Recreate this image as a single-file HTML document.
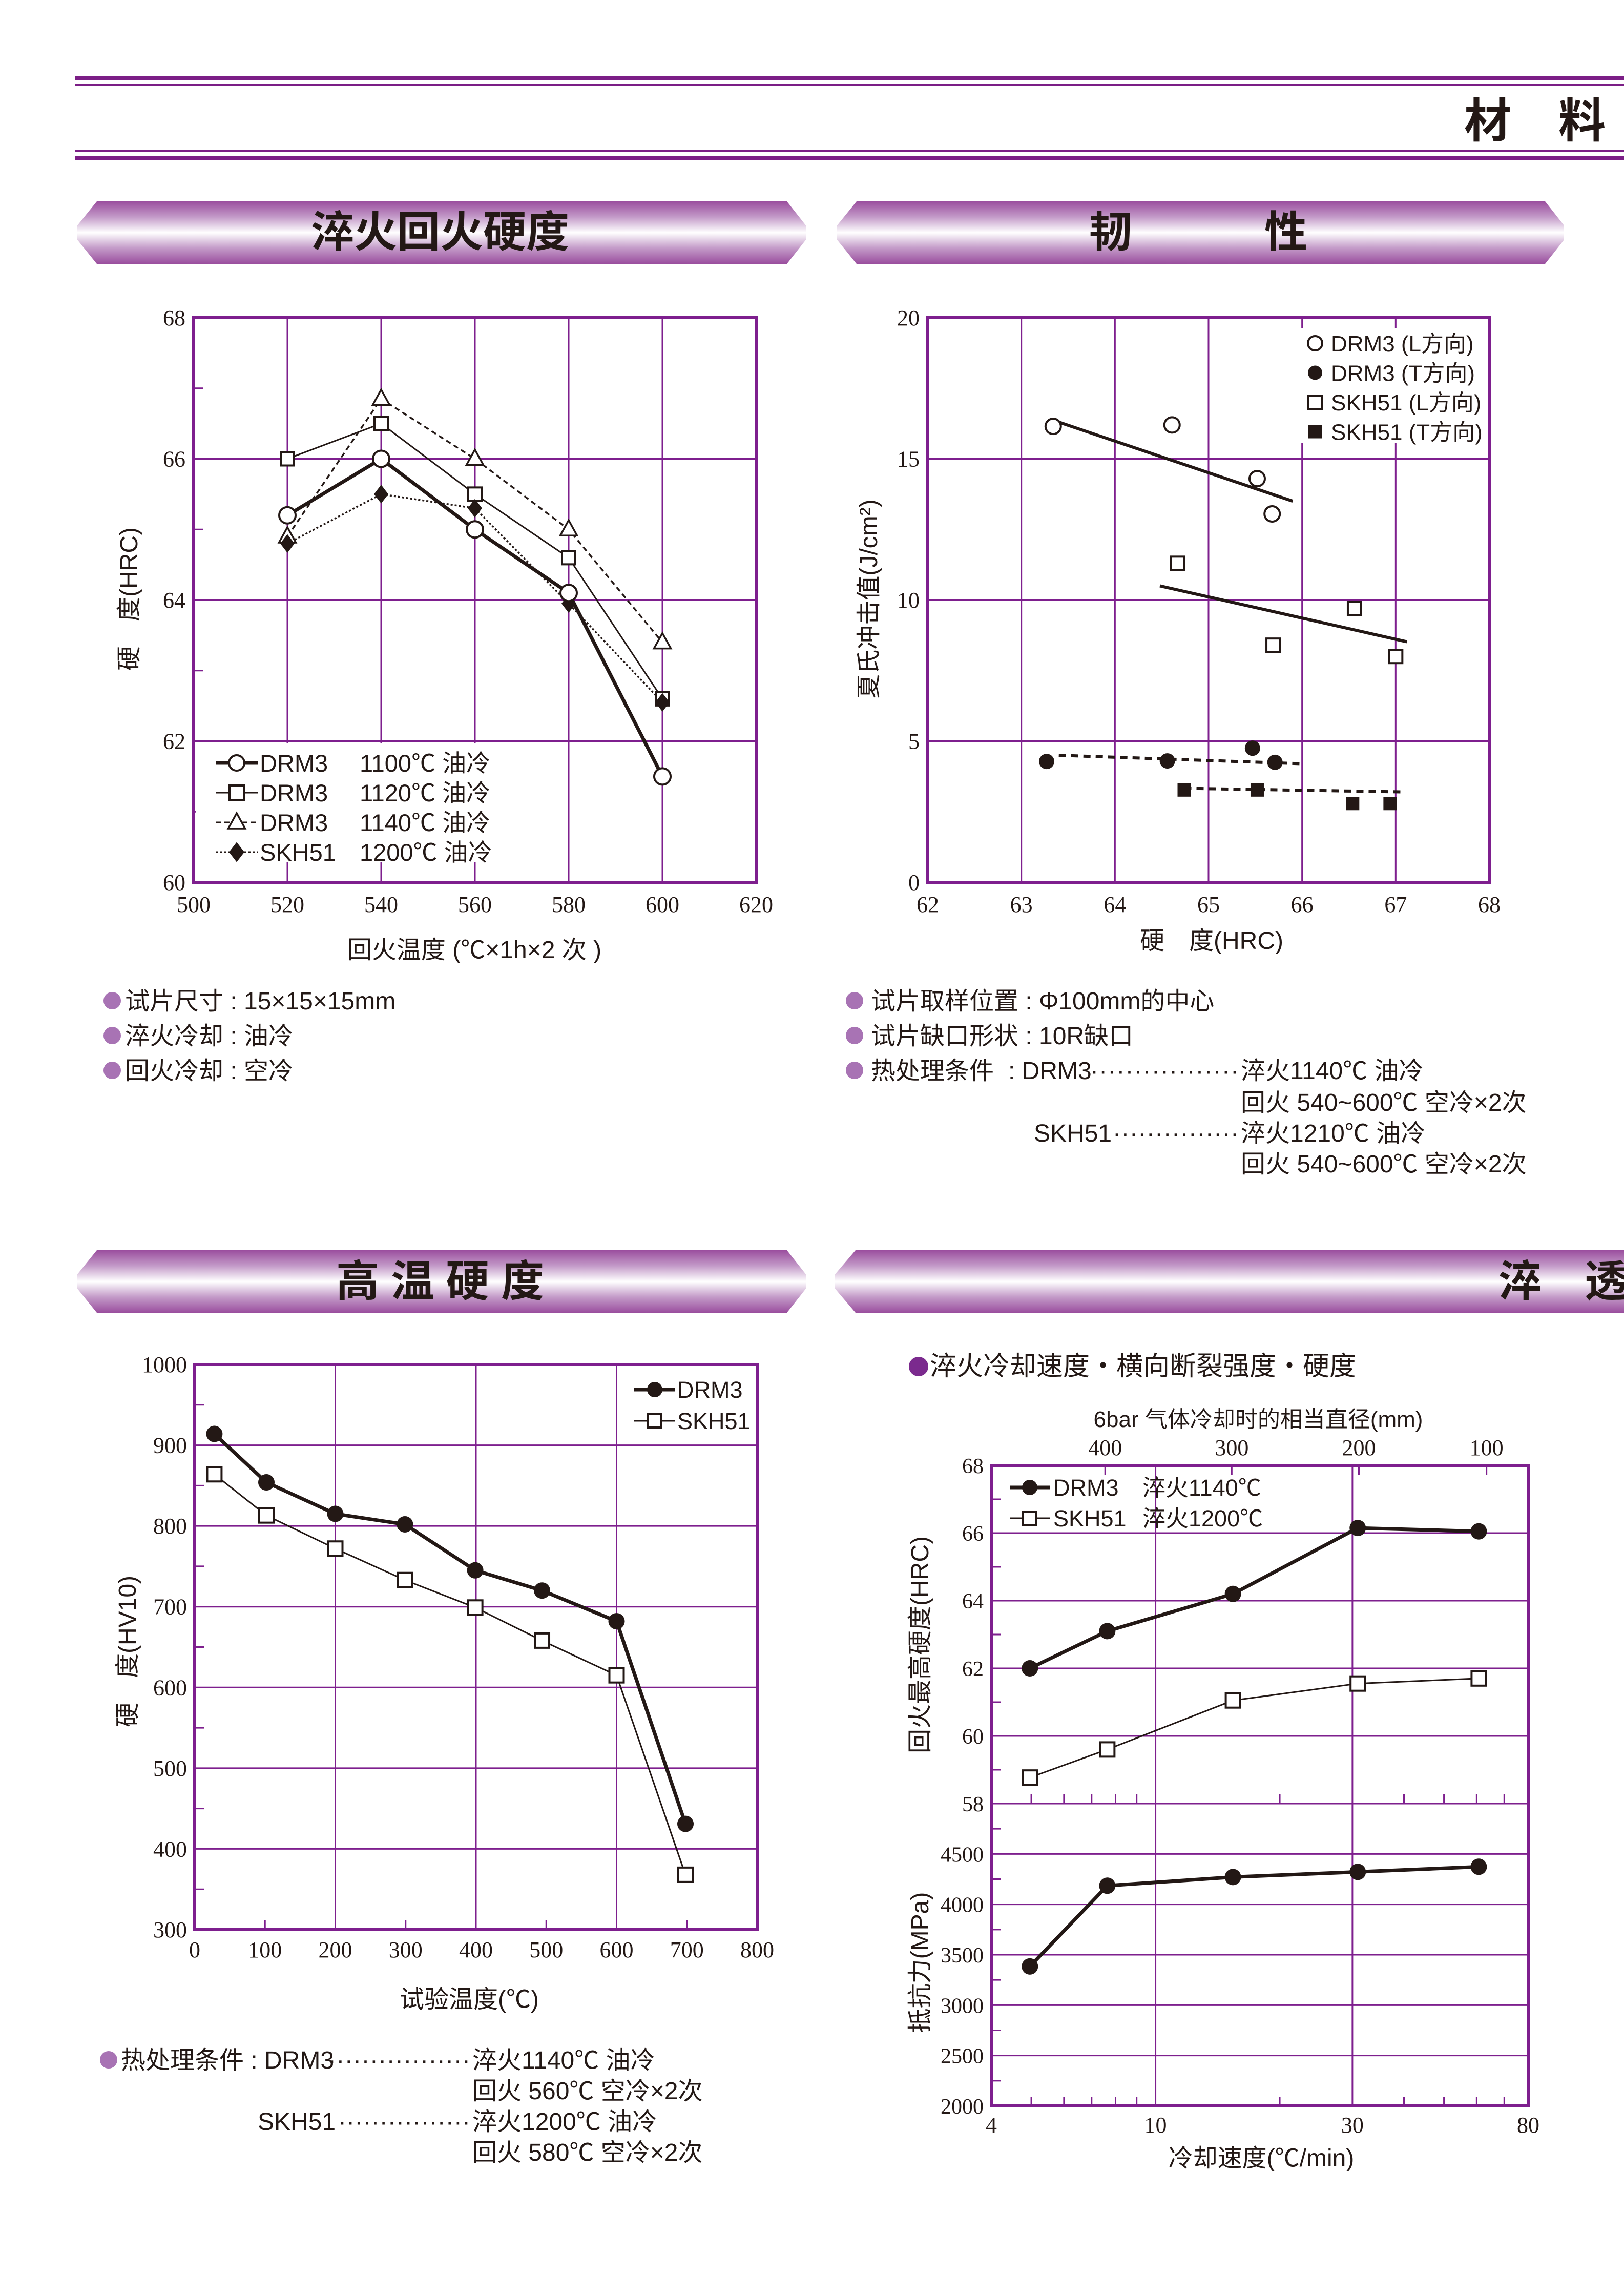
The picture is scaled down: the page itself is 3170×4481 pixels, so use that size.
<!DOCTYPE html>
<html><head><meta charset="utf-8"><style>
html,body{margin:0;padding:0;background:#fff;}
svg{display:block;}
text{font-family:"Liberation Sans","Noto Sans CJK SC",sans-serif;fill:#231815;}
.ser{font-family:"Liberation Serif","Noto Serif CJK SC",serif;}
</style></head><body>
<svg id="page" xmlns="http://www.w3.org/2000/svg" width="3170" height="4481" viewBox="0 0 3170 4481">
<defs>
<linearGradient id="bg" x1="0" y1="0" x2="0" y2="1">
<stop offset="0" stop-color="#9a4e9e"/><stop offset="0.25" stop-color="#c39ac8"/><stop offset="0.5" stop-color="#ffffff"/><stop offset="0.75" stop-color="#c39ac8"/><stop offset="1" stop-color="#9a4e9e"/>
</linearGradient>
</defs>
<g>
<rect x="146" y="148" width="3024" height="9" fill="#7b1e86"/>
<rect x="146" y="164" width="3024" height="4" fill="#7b1e86"/>
<rect x="146" y="293" width="3024" height="4" fill="#7b1e86"/>
<rect x="146" y="304" width="3024" height="9" fill="#7b1e86"/>
<text x="2858" y="268" font-size="92" font-weight="bold">材　料</text>
</g>
<g>
<polygon points="189,393 1536,393 1573,440 1573,468 1536,515 189,515 151,468 151,440" fill="url(#bg)"/>
<text x="859" y="482" font-size="84" font-weight="bold" text-anchor="middle">淬火回火硬度</text>
</g>
<g>
<polygon points="1672,393 3016,393 3053,440 3053,468 3016,515 1672,515 1634,468 1634,440" fill="url(#bg)"/>
<text x="2168" y="482" font-size="84" font-weight="bold" text-anchor="middle">韧</text>
<text x="2510" y="482" font-size="84" font-weight="bold" text-anchor="middle">性</text>
</g>
<g>
<polygon points="189,2440 1536,2440 1573,2487 1573,2515 1536,2562 189,2562 151,2515 151,2487" fill="url(#bg)"/>
<text x="859" y="2530" font-size="84" font-weight="bold" text-anchor="middle">高 温 硬 度</text>
</g>
<g>
<polygon points="1670,2440 3170,2440 3170,2562 1670,2562 1630,2515 1630,2487" fill="url(#bg)"/>
<text x="2925" y="2530" font-size="84" font-weight="bold">淬　透</text>
</g>
<g id="c1"></g>
<g id="c2"></g>
<g id="c3"></g>
<g id="c4"></g>
<g font-size="48">
<circle cx="219" cy="1953" r="17" fill="#a873b4"/><text x="244" y="1970">试片尺寸 : 15×15×15mm</text>
<circle cx="219" cy="2021" r="17" fill="#a873b4"/><text x="244" y="2038">淬火冷却 : 油冷</text>
<circle cx="219" cy="2089" r="17" fill="#a873b4"/><text x="244" y="2106">回火冷却 : 空冷</text>

<circle cx="1668" cy="1953" r="17" fill="#a873b4"/><text x="1700" y="1970">试片取样位置 : Φ100mm的中心</text>
<circle cx="1668" cy="2021" r="17" fill="#a873b4"/><text x="1700" y="2038">试片缺口形状 : 10R缺口</text>
<circle cx="1668" cy="2089" r="17" fill="#a873b4"/><text x="1700" y="2106">热处理条件</text>
<text x="1968" y="2106">: DRM3</text>
<text x="2128" y="2106" textLength="290" lengthAdjust="spacing">·················</text>
<text x="2422" y="2106">淬火1140℃ 油冷</text>
<text x="2422" y="2168">回火 540~600℃ 空冷×2次</text>
<text x="2018" y="2228">SKH51</text>
<text x="2172" y="2228" textLength="246" lengthAdjust="spacing">···············</text>
<text x="2422" y="2228">淬火1210℃ 油冷</text>
<text x="2422" y="2288">回火 540~600℃ 空冷×2次</text>

<circle cx="212" cy="4020" r="17" fill="#a873b4"/><text x="236" y="4037">热处理条件 : DRM3</text>
<text x="640" y="4037" textLength="278" lengthAdjust="spacing">·················</text>
<text x="922" y="4037">淬火1140℃ 油冷</text>
<text x="922" y="4097">回火 560℃ 空冷×2次</text>
<text x="503" y="4157">SKH51</text>
<text x="660" y="4157" textLength="258" lengthAdjust="spacing">················</text>
<text x="922" y="4157">淬火1200℃ 油冷</text>
<text x="922" y="4217">回火 580℃ 空冷×2次</text>
</g>
</svg>
<script>
// ---- chart 1 data ----
const c1Temps = [520, 540, 560, 580, 600];
const c1Drm1100 = [65.2, 66.0, 65.0, 64.1, 61.5];
const c1Drm1120 = [66.0, 66.5, 65.5, 64.6, 62.6];
const c1Drm1140 = [64.9, 66.85, 66.0, 65.0, 63.4];
const c1Skh1200 = [64.8, 65.5, 65.3, 63.95, 62.55];
const c1XTicks = [500, 520, 540, 560, 580, 600, 620];
const c1YTicks = [60, 62, 64, 66, 68];
// ---- chart 2 data ----
const c2DrmL_x = [63.34, 64.61, 65.52, 65.68];
const c2DrmL_y = [16.15, 16.2, 14.3, 13.05];
const c2DrmT_x = [63.27, 64.56, 65.47, 65.71];
const c2DrmT_y = [4.28, 4.3, 4.75, 4.25];
const c2SkhL_x = [64.67, 65.69, 66.56, 67.0];
const c2SkhL_y = [11.3, 8.4, 9.7, 8.0];
const c2SkhT_x = [64.74, 65.52, 66.54, 66.94];
const c2SkhT_y = [3.27, 3.27, 2.79, 2.79];
const c2FitDrmL = [[63.4, 16.3], [65.9, 13.5]];
const c2FitDrmT = [[63.4, 4.5], [66.0, 4.2]];
const c2FitSkhL = [[64.48, 10.5], [67.12, 8.52]];
const c2FitSkhT = [[64.74, 3.33], [67.1, 3.2]];
const c2XTicks = [62, 63, 64, 65, 66, 67, 68];
const c2YTicks = [0, 5, 10, 15, 20];
// ---- chart 3 data ----
const c3TempsDrm = [28, 102, 200, 299, 399, 494, 600, 698];
const c3Drm = [914, 854, 815, 802, 745, 720, 682, 431];
const c3TempsSkh = [28, 102, 200, 299, 399, 494, 600, 698];
const c3Skh = [864, 813, 772, 733, 699, 658, 615, 368];
const c3XTicks = [0, 100, 200, 300, 400, 500, 600, 700, 800];
const c3YTicks = [300, 400, 500, 600, 700, 800, 900, 1000];
// ---- chart 4 data ----
const c4Rates = [4.96, 7.64, 15.4, 30.9, 60.7];
const c4DrmHrc = [62.0, 63.1, 64.2, 66.15, 66.05];
const c4SkhHrc = [58.77, 59.6, 61.05, 61.55, 61.7];
const c4Strength = [3384, 4185, 4271, 4322, 4373];
const c4XTicks = [4, 10, 30, 80];
const c4HrcTicks = [58, 60, 62, 64, 66, 68];
const c4StrTicks = [2000, 2500, 3000, 3500, 4000, 4500];
const c4DiaLabels = ["400", "300", "200", "100"];
const c4DiaRates = [7.55, 15.3, 31.1, 63.4];

const NS = "http://www.w3.org/2000/svg";
const PURPLE = "#7e1f8e", INK = "#231815";
function mk(parent, tag, attrs, txt) {
  const e = document.createElementNS(NS, tag);
  for (const k in attrs) e.setAttribute(k, attrs[k]);
  if (txt !== undefined) e.textContent = txt;
  parent.appendChild(e);
  return e;
}
function lin(d0, d1, r0, r1) { return v => r0 + (v - d0) / (d1 - d0) * (r1 - r0); }
function logs(d0, d1, r0, r1) { return v => r0 + (Math.log10(v) - Math.log10(d0)) / (Math.log10(d1) - Math.log10(d0)) * (r1 - r0); }
function hline(g, x0, x1, y, w) { mk(g, "line", {x1: x0, x2: x1, y1: y, y2: y, stroke: PURPLE, "stroke-width": w}); }
function vline(g, x, y0, y1, w) { mk(g, "line", {x1: x, x2: x, y1: y0, y2: y1, stroke: PURPLE, "stroke-width": w}); }
function polyline(g, xs, ys, sx, sy, w, dash, name) {
  const pts = xs.map((x, i) => sx(x) + "," + sy(ys[i])).join(" ");
  const p = mk(g, "polyline", {points: pts, fill: "none", stroke: INK, "stroke-width": w, "stroke-linejoin": "round"});
  if (dash) p.setAttribute("stroke-dasharray", dash);
  
  
  return p;
}
function marker(g, type, cx, cy, s, name) {
  let e;
  if (type === "oc") e = mk(g, "circle", {cx: cx, cy: cy, r: s, fill: "#fff", stroke: INK, "stroke-width": 4});
  else if (type === "fc") e = mk(g, "circle", {cx: cx, cy: cy, r: s, fill: INK});
  else if (type === "os") e = mk(g, "rect", {x: cx - s, y: cy - s, width: 2 * s, height: 2 * s, fill: "#fff", stroke: INK, "stroke-width": 4});
  else if (type === "fs") e = mk(g, "rect", {x: cx - s, y: cy - s, width: 2 * s, height: 2 * s, fill: INK});
  else if (type === "tri") e = mk(g, "polygon", {points: `${cx},${cy - s * 1.2} ${cx - s * 1.1},${cy + s * 0.8} ${cx + s * 1.1},${cy + s * 0.8}`, fill: "#fff", stroke: INK, "stroke-width": 3.5});
  else if (type === "dia") e = mk(g, "polygon", {points: `${cx},${cy - s * 1.3} ${cx + s},${cy} ${cx},${cy + s * 1.3} ${cx - s},${cy}`, fill: INK});
  
  
  return e;
}
function tlabel(g, x, y, t, anchor, size, name) {
  const e = mk(g, "text", {x: x, y: y, "font-size": size || 42, "text-anchor": anchor || "middle", class: "ser"}, t);
  
  
  return e;
}
function vtext(g, x, y, t, size, name) {
  const e = mk(g, "text", {x: 0, y: 0, "font-size": size, "text-anchor": "middle", transform: `translate(${x},${y}) rotate(-90)`}, t);
  
  
  return e;
}

// ================= Chart 1 =================
(function () {
  const g = document.getElementById("c1");
  const L = 378, R = 1476, T = 620, B = 1722;
  const sx = lin(500, 620, L, R), sy = lin(60, 68, B, T);
  [62, 64, 66].forEach(v => hline(g, L, R, sy(v), 3));
  [61, 63, 65, 67].forEach(v => hline(g, L, L + 18, sy(v), 3));
  [520, 540, 560, 580, 600].forEach(v => vline(g, sx(v), T, B, 3));
  const lg = mk(g, "g", {});
  
  
  mk(lg, "rect", {x: L + 5, y: 1450, width: 680, height: 232, fill: "#fff"});
  const rows = [["oc", 7, null, "DRM3", "1100℃ 油冷"], ["os", 3, null, "DRM3", "1120℃ 油冷"], ["tri", 3, "10,7", "DRM3", "1140℃ 油冷"], ["dia", 3, "4,4", "SKH51", "1200℃ 油冷"]];
  rows.forEach((r, i) => {
    const y = 1489 + i * 58;
    const ln = mk(lg, "line", {x1: 421, x2: 503, y1: y, y2: y, stroke: INK, "stroke-width": r[1]});
    if (r[2]) ln.setAttribute("stroke-dasharray", r[2]);
    marker(lg, r[0], 462, y, r[0] === "os" ? 14 : 15, "legend-marker");
    const t1 = mk(lg, "text", {x: 507, y: y + 17, "font-size": 47}, r[3]);
    
    
    mk(lg, "text", {x: 702, y: y + 17, "font-size": 47}, r[4]);
  });
  mk(g, "rect", {x: L, y: T, width: R - L, height: B - T, fill: "none", stroke: PURPLE, "stroke-width": 6});
  c1XTicks.forEach(v => tlabel(g, sx(v), 1780, String(v), "middle", 44, "x-tick-label"));
  c1YTicks.forEach(v => tlabel(g, 362, sy(v) + 15, String(v), "end", 44, "y-tick-label"));
  polyline(g, c1Temps, c1Drm1120, sx, sy, 3, null, "line-drm3-1120");
  polyline(g, c1Temps, c1Drm1140, sx, sy, 3.5, "10,7", "line-drm3-1140");
  polyline(g, c1Temps, c1Skh1200, sx, sy, 3.5, "4,4", "line-skh51-1200");
  polyline(g, c1Temps, c1Drm1100, sx, sy, 7, null, "line-drm3-1100");
  c1Temps.forEach((t, i) => marker(g, "os", sx(t), sy(c1Drm1120[i]), 13, "point-drm3-1120"));
  c1Temps.forEach((t, i) => marker(g, "tri", sx(t), sy(c1Drm1140[i]), 15, "point-drm3-1140"));
  c1Temps.forEach((t, i) => marker(g, "dia", sx(t), sy(c1Skh1200[i]), 14, "point-skh51-1200"));
  c1Temps.forEach((t, i) => marker(g, "oc", sx(t), sy(c1Drm1100[i]), 16, "point-drm3-1100"));
  const xl = mk(g, "text", {x: 926, y: 1870, "font-size": 48, "text-anchor": "middle"}, "回火温度 (℃×1h×2 次 )");
  
  
  vtext(g, 268, 1169, "硬　度(HRC)", 48, "y-axis-title");
})();

// ================= Chart 2 =================
(function () {
  const g = document.getElementById("c2");
  const L = 1811, R = 2907, T = 620, B = 1722;
  const sx = lin(62, 68, L, R), sy = lin(0, 20, B, T);
  [5, 10, 15].forEach(v => hline(g, L, R, sy(v), 3));
  [63, 64, 65, 66, 67].forEach(v => vline(g, sx(v), T, B, 3));
  const lg = mk(g, "g", {});
  
  
  mk(lg, "rect", {x: 2540, y: 640, width: 360, height: 225, fill: "#fff"});
  const rows = [["oc", "DRM3 (L方向)"], ["fc", "DRM3 (T方向)"], ["os", "SKH51 (L方向)"], ["fs", "SKH51 (T方向)"]];
  rows.forEach((r, i) => {
    const y = 670 + i * 57.5;
    marker(lg, r[0], 2567, y, r[0][1] === "s" ? 13 : 14, "legend-marker");
    const t = mk(lg, "text", {x: 2598, y: y + 16, "font-size": 44}, r[1]);
    
    
  });
  mk(g, "rect", {x: L, y: T, width: R - L, height: B - T, fill: "none", stroke: PURPLE, "stroke-width": 6});
  c2XTicks.forEach(v => tlabel(g, sx(v), 1780, String(v), "middle", 44, "x-tick-label"));
  c2YTicks.forEach(v => tlabel(g, 1795, sy(v) + 15, String(v), "end", 44, "y-tick-label"));
  const fit = (pts, dash, name) => {
    const l = mk(g, "line", {x1: sx(pts[0][0]), y1: sy(pts[0][1]), x2: sx(pts[1][0]), y2: sy(pts[1][1]), stroke: INK, "stroke-width": 6});
    if (dash) l.setAttribute("stroke-dasharray", dash);
    
    
  };
  fit(c2FitDrmL, null, "trend-drm3-l");
  fit(c2FitSkhL, null, "trend-skh51-l");
  fit(c2FitDrmT, "14,10", "trend-drm3-t");
  fit(c2FitSkhT, "14,10", "trend-skh51-t");
  c2DrmL_x.forEach((x, i) => marker(g, "oc", sx(x), sy(c2DrmL_y[i]), 15, "point-drm3-l"));
  c2DrmT_x.forEach((x, i) => marker(g, "fc", sx(x), sy(c2DrmT_y[i]), 15, "point-drm3-t"));
  c2SkhL_x.forEach((x, i) => marker(g, "os", sx(x), sy(c2SkhL_y[i]), 13, "point-skh51-l"));
  c2SkhT_x.forEach((x, i) => marker(g, "fs", sx(x), sy(c2SkhT_y[i]), 13, "point-skh51-t"));
  const xl = mk(g, "text", {x: 2365, y: 1852, "font-size": 48, "text-anchor": "middle"}, "硬　度(HRC)");
  
  
  vtext(g, 1712, 1169, "夏氏冲击值(J/cm²)", 48, "y-axis-title");
})();

// ================= Chart 3 =================
(function () {
  const g = document.getElementById("c3");
  const L = 380, R = 1478, T = 2663, B = 3766;
  const sx = lin(0, 800, L, R), sy = lin(300, 1000, B, T);
  [400, 500, 600, 700, 800, 900].forEach(v => hline(g, L, R, sy(v), 3));
  [350, 450, 550, 650, 750, 850, 950].forEach(v => hline(g, L, L + 18, sy(v), 3));
  [200, 400, 600].forEach(v => vline(g, sx(v), T, B, 3));
  [100, 300, 500, 700].forEach(v => vline(g, sx(v), B - 18, B, 3));
  const lg = mk(g, "g", {});
  
  
  mk(lg, "rect", {x: 1225, y: 2680, width: 245, height: 120, fill: "#fff"});
  [["fc", 7, "DRM3"], ["os", 3, "SKH51"]].forEach((r, i) => {
    const y = 2712 + i * 61;
    mk(lg, "line", {x1: 1237, x2: 1318, y1: y, y2: y, stroke: INK, "stroke-width": r[1]});
    marker(lg, r[0], 1278, y, r[0] === "fc" ? 15 : 13, "legend-marker");
    const t = mk(lg, "text", {x: 1322, y: y + 16, "font-size": 45}, r[2]);
    
    
  });
  mk(g, "rect", {x: L, y: T, width: R - L, height: B - T, fill: "none", stroke: PURPLE, "stroke-width": 6});
  c3XTicks.forEach(v => tlabel(g, sx(v), 3820, String(v), "middle", 44, "x-tick-label"));
  c3YTicks.forEach(v => tlabel(g, 365, sy(v) + 15, String(v), "end", 44, "y-tick-label"));
  polyline(g, c3TempsSkh, c3Skh, sx, sy, 3, null, "line-skh51");
  polyline(g, c3TempsDrm, c3Drm, sx, sy, 7, null, "line-drm3");
  c3TempsSkh.forEach((t, i) => marker(g, "os", sx(t), sy(c3Skh[i]), 14, "point-skh51"));
  c3TempsDrm.forEach((t, i) => marker(g, "fc", sx(t), sy(c3Drm[i]), 16, "point-drm3"));
  const xl = mk(g, "text", {x: 916, y: 3918, "font-size": 48, "text-anchor": "middle"}, "试验温度(℃)");
  
  
  vtext(g, 265, 3223, "硬　度(HV10)", 48, "y-axis-title");
})();

// ================= Chart 4 =================
(function () {
  const g = document.getElementById("c4");
  const L = 1935, R = 2983, T = 2860, M = 3520, B = 4110;
  const sx = logs(4, 80, L, R);
  const syH = lin(58, 68, M, T);
  const syS = lin(2000, 5000, B, M);
  const sub = mk(g, "text", {x: 1815, y: 2684, "font-size": 52}, "淬火冷却速度・横向断裂强度・硬度");
  
  
  mk(g, "circle", {cx: 1793, cy: 2667, r: 19, fill: "#7b2a8e"});
  const tt = mk(g, "text", {x: 2456, y: 2785, "font-size": 44, "text-anchor": "middle"}, "6bar 气体冷却时的相当直径(mm)");
  
  
  c4DiaLabels.forEach((s, i) => {
    tlabel(g, sx(c4DiaRates[i]), 2840, s, "middle", 44, "top-tick-label");
    vline(g, sx(c4DiaRates[i]), T, T + 18, 3);
  });
  [60, 62, 64, 66].forEach(v => hline(g, L, R, syH(v), 3));
  [59, 61, 63, 65, 67].forEach(v => hline(g, L, L + 18, syH(v), 3));
  [2500, 3000, 3500, 4000, 4500].forEach(v => hline(g, L, R, syS(v), 3));
  [2250, 2750, 3250, 3750, 4250, 4750].forEach(v => hline(g, L, L + 18, syS(v), 3));
  [10, 30].forEach(v => vline(g, sx(v), T, B, 3));
  [5, 6, 7, 8, 9, 20, 40, 50, 60, 70].forEach(v => { vline(g, sx(v), M - 18, M, 3); vline(g, sx(v), B - 18, B, 3); });
  const lg = mk(g, "g", {});
  
  
  [["fc", 7, "DRM3", "淬火1140℃"], ["os", 3, "SKH51", "淬火1200℃"]].forEach((r, i) => {
    const y = 2903 + i * 60;
    mk(lg, "line", {x1: 1971, x2: 2050, y1: y, y2: y, stroke: INK, "stroke-width": r[1]});
    marker(lg, r[0], 2010, y, r[0] === "fc" ? 15 : 13, "legend-marker");
    const t = mk(lg, "text", {x: 2056, y: y + 16, "font-size": 45}, r[2]);
    
    
    mk(lg, "text", {x: 2230, y: y + 16, "font-size": 45}, r[3]);
  });
  mk(g, "rect", {x: L, y: T, width: R - L, height: B - T, fill: "none", stroke: PURPLE, "stroke-width": 6});
  hline(g, L, R, M, 3);
  c4XTicks.forEach(v => tlabel(g, sx(v), 4162, String(v), "middle", 44, "x-tick-label"));
  c4HrcTicks.forEach(v => tlabel(g, 1920, syH(v) + 15, String(v), "end", 42, "y-tick-label"));
  c4StrTicks.forEach(v => tlabel(g, 1920, syS(v) + 15, String(v), "end", 42, "y-tick-label"));
  polyline(g, c4Rates, c4SkhHrc, sx, syH, 3, null, "line-skh51-hardness");
  polyline(g, c4Rates, c4DrmHrc, sx, syH, 7, null, "line-drm3-hardness");
  polyline(g, c4Rates, c4Strength, sx, syS, 7, null, "line-drm3-strength");
  c4Rates.forEach((r, i) => marker(g, "os", sx(r), syH(c4SkhHrc[i]), 14, "point-skh51-hardness"));
  c4Rates.forEach((r, i) => marker(g, "fc", sx(r), syH(c4DrmHrc[i]), 16, "point-drm3-hardness"));
  c4Rates.forEach((r, i) => marker(g, "fc", sx(r), syS(c4Strength[i]), 16, "point-drm3-strength"));
  const xl = mk(g, "text", {x: 2462, y: 4228, "font-size": 48, "text-anchor": "middle"}, "冷却速度(℃/min)");
  
  
  vtext(g, 1812, 3210, "回火最高硬度(HRC)", 48, "y-axis-title-hardness");
  vtext(g, 1812, 3830, "抵抗力(MPa)", 48, "y-axis-title-strength");
})();
</script>
</body></html>
